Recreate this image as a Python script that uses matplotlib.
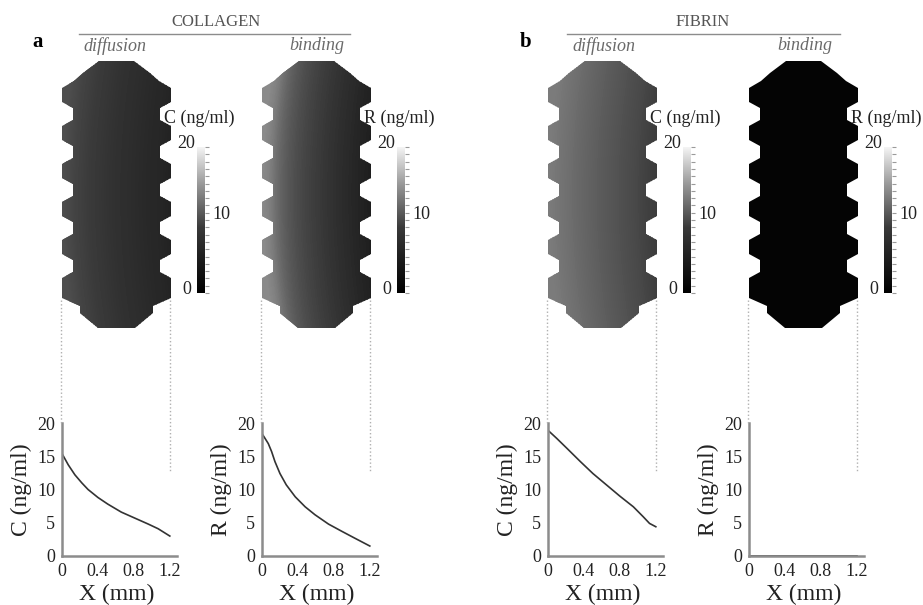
import numpy as np
import matplotlib.pyplot as plt
from matplotlib.colors import LinearSegmentedColormap
from matplotlib.patches import Polygon
from matplotlib.lines import Line2D

plt.rcParams['font.family'] = ['Liberation Serif', 'DejaVu Serif']

# profiles (x in mm, concentration in ng/ml)
x_col_diff = [0, 0.07, 0.144, 0.22, 0.29, 0.40, 0.51, 0.66, 0.81, 0.96, 1.07, 1.2]
c_col_diff = [15.4, 13.7, 12.2, 11.0, 10.0, 8.8, 7.8, 6.6, 5.7, 4.8, 4.1, 3.0]

x_col_bind = [0, 0.033, 0.07, 0.107, 0.144, 0.2, 0.27, 0.37, 0.48, 0.59, 0.74, 0.89, 1.03, 1.2]
r_col_bind = [18.4, 17.7, 16.9, 15.7, 14.2, 12.4, 10.7, 8.9, 7.4, 6.2, 4.8, 3.7, 2.7, 1.5]

x_fib_diff = [0, 0.096, 0.21, 0.36, 0.50, 0.65, 0.8, 0.95, 1.06, 1.13, 1.2]
c_fib_diff = [18.9, 17.7, 16.2, 14.2, 12.4, 10.7, 9.0, 7.4, 5.9, 4.9, 4.4]

x_fib_bind = [0, 0.4, 0.8, 1.2]
r_fib_bind = [0, 0, 0, 0]

x_ticks = [0, 0.4, 0.8, 1.2]
x_ticklabels = ['0', '0.4', '0.8', '1.2']
y_ticks = [0, 5, 10, 15, 20]
cbar_labels = ['C (ng/ml)', 'R (ng/ml)', 'C (ng/ml)', 'R (ng/ml)']
y_labels = ['C (ng/ml)', 'R (ng/ml)', 'C (ng/ml)', 'R (ng/ml)']
sub_titles = ['diffusion', 'binding', 'diffusion', 'binding']
materials = ['COLLAGEN', 'FIBRIN']

profiles = [(x_col_diff, c_col_diff), (x_col_bind, r_col_bind),
            (x_fib_diff, c_fib_diff), (x_fib_bind, r_fib_bind)]

W, H = 923, 605
fig = plt.figure(figsize=(W / 100, H / 100), dpi=100)


def rect(l, t, w, h):
    return [l / W, 1 - (t + h) / H, w / W, h / H]


def fx(px):
    return px / W


def fy(py):
    return 1 - py / H


# outline of the scaffold in pixel units (width 109, height 267)
def scaffold_outline():
    right = [(72, 0), (88, 12), (97, 20), (109, 27)]
    for k in range(6):
        y0 = 27 + 38 * k
        right += [(109, y0), (109, y0 + 14)]
        if k < 5:
            right += [(98, y0 + 20), (98, y0 + 32)]
    right += [(109, 231), (109, 237), (91, 245), (91, 252), (73, 267)]
    left = [(109 - x, y) for x, y in right[::-1]]
    return right + left


outline = scaffold_outline()
mm = 1.2 / 108
lefts = [62, 262, 548, 749]
gray_ranges = [(0.09, 0.37), (0.08, 0.58), (0.16, 0.50), (0.015, 0.5)]
line_col = '#8c8c8c'

cbar_cmap = LinearSegmentedColormap.from_list(
    'cb', [(0, '#000000'), (0.45, '#3a3a3a'), (0.75, '#9a9a9a'), (1, '#f4f4f4')])

for i, L in enumerate(lefts):
    xs_d, ys_d = profiles[i]
    lo, hi = gray_ranges[i]
    cmap = LinearSegmentedColormap.from_list('g%d' % i, [(lo, lo, lo), (hi, hi, hi)])

    # scaffold map
    ax = fig.add_axes(rect(L, 61, 109, 267))
    wmm, hmm = 109 * mm, 267 * mm
    gx = np.linspace(0, wmm, 220)
    gy = np.linspace(0, hmm, 400)
    X, Y = np.meshgrid(gx, gy)
    v = (Y - hmm / 2) / (hmm / 2)
    xe = np.clip(X - 0.12 * v ** 2, 0, 1.2)
    Z = np.interp(xe, xs_d, ys_d)
    cs = ax.contourf(X, Y, Z, levels=np.linspace(0, 20, 81), cmap=cmap, vmin=0, vmax=20)
    poly = Polygon([(x * mm, y * mm) for x, y in outline], closed=True,
                   facecolor='none', edgecolor='none')
    ax.add_patch(poly)
    cs.set_clip_path(poly)
    ax.set_xlim(0, wmm)
    ax.set_ylim(hmm, 0)
    ax.axis('off')

    # colour bar
    cax = fig.add_axes(rect(L + 135, 147, 8, 146))
    cax.imshow(np.linspace(0, 20, 256)[:, None], cmap=cbar_cmap, origin='lower',
               aspect='auto', extent=[0, 1, 0, 20])
    cax.set_xticks([])
    cax.set_yticks(np.arange(0, 20.1, 1))
    cax.tick_params(axis='y', left=False, right=True, labelleft=False,
                    length=3, width=0.8, color='#9a9a9a')
    for s in cax.spines.values():
        s.set_visible(False)
    fig.text(fx(L + 102), fy(118), cbar_labels[i], fontsize=13, ha='left', va='center',
             color='#222222')
    fig.text(fx(L + 133), fy(143), '20', fontsize=13, ha='right', va='center', color='#222222')
    fig.text(fx(L + 150), fy(215), '10', fontsize=13, ha='left', va='center', color='#222222')
    fig.text(fx(L + 129), fy(290), '0', fontsize=13, ha='right', va='center', color='#222222')

    # sub title
    cx = [115, 317, 604, 805][i]
    fig.text(fx(cx), fy(46), sub_titles[i], fontsize=13, style='italic', ha='center',
             va='center', color='#6a6a6a')

    # dotted guides
    fig.add_artist(Line2D([fx(L - 1)] * 2, [fy(300), fy(423)], ls=':', lw=1, color='#b0b0b0'))
    fig.add_artist(Line2D([fx(L + 108)] * 2, [fy(300), fy(472)], ls=':', lw=1, color='#b0b0b0'))

    # profile plot
    pax = fig.add_axes(rect(L, 423, 115, 133))
    pax.plot(xs_d, ys_d, color='#333333', lw=1.2)
    pax.set_xlim(0, 1.28)
    pax.set_ylim(0, 20)
    pax.set_xticks(x_ticks)
    pax.set_xticklabels(x_ticklabels)
    pax.set_yticks(y_ticks)
    pax.tick_params(length=0, labelsize=13, pad=5, colors='#222222')
    pax.patch.set_alpha(0)
    for s in ['top', 'right']:
        pax.spines[s].set_visible(False)
    for s in ['left', 'bottom']:
        pax.spines[s].set_color(line_col)
        pax.spines[s].set_linewidth(1.8)
    pax.set_xlabel('X (mm)', fontsize=17, color='#222222')
    pax.xaxis.set_label_coords(0.478, -0.21)
    pax.set_ylabel(y_labels[i], fontsize=17, color='#222222')
    pax.yaxis.set_label_coords(-0.26, 0.5)

# group headers
for k, (cx, x1, x2, letter, lx) in enumerate([(216, 79, 350, 'a', 38), (703, 567, 840, 'b', 526)]):
    fig.text(fx(cx), fy(22), materials[k], fontsize=12, ha='center', va='center', color='#555555')
    fig.add_artist(Line2D([fx(x1), fx(x2)], [fy(34), fy(34)], lw=1, color='#8c8c8c'))
    fig.text(fx(lx), fy(42), letter, fontsize=15, fontweight='bold', ha='center', va='center')

fig.savefig('out.png', dpi=100)
